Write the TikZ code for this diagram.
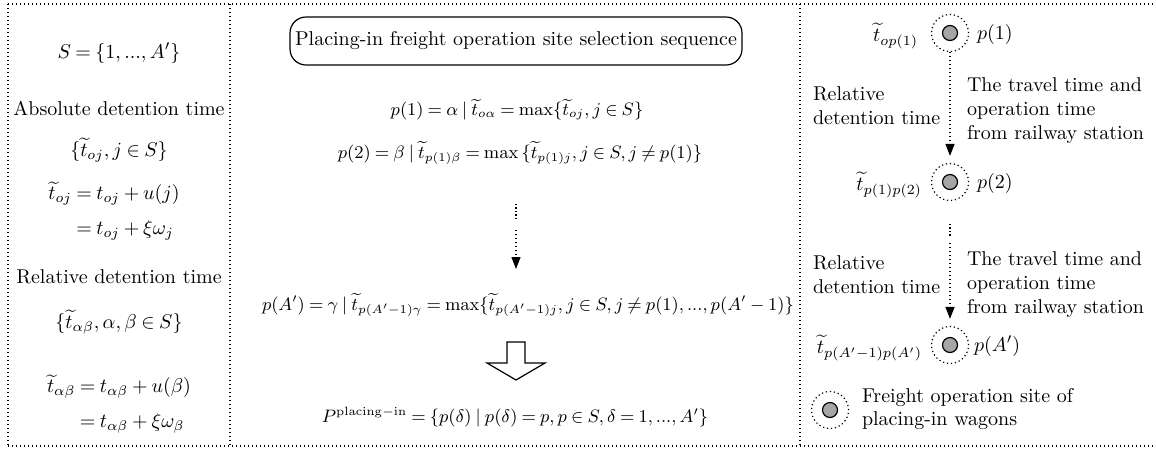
\documentclass[tikz,border=0pt]{standalone}
\usepackage{amsmath}
\usetikzlibrary{arrows.meta}
\tikzset{
  frameline/.style={line width=0.6pt, dash pattern=on 0.6pt off 1.4pt},
  txt/.style={inner sep=0pt, outer sep=0pt},
  mthl/.style={txt, font={\thickmuskip=4mu plus 2mu\medmuskip=3.5mu plus 2mu minus 2mu}},
  mthc/.style={txt, font={\fontsize{9.2}{11}\selectfont\thickmuskip=4mu plus 2mu\medmuskip=3.5mu plus 2mu minus 2mu}},
  dotarrow/.style={line width=0.6pt, dash pattern=on 0.6pt off 1.4pt, -{Triangle[length=6pt,width=4.5pt]}},
  densedots/.style={line width=0.7pt, dash pattern=on 0.7pt off 1.0pt},
  ring/.style={circle, draw, line width=0.6pt, dash pattern=on 0.6pt off 1.4pt, minimum size=18.5pt, inner sep=0pt},
  site/.style={circle, draw, fill=gray!70, line width=0.6pt, minimum size=7.5pt, inner sep=0pt},
  titlebox/.style={draw, line width=0.6pt, rounded corners=8pt, minimum width=226pt, minimum height=24pt, inner sep=2pt},
  hollow/.style={draw, line width=0.6pt, fill=white, line join=miter}
}
\begin{document}
\begin{tikzpicture}[x=0.5pt,y=-0.5pt]
\useasboundingbox (0,0) rectangle (1156,451);
% frame
\draw[frameline] (8,4) -- (1156,4);
\draw[frameline] (8,446) -- (1156,446);
\draw[frameline] (8,4) -- (8,446);
\draw[frameline] (230,4) -- (230,446);
\draw[frameline] (800,4) -- (800,446);

% left panel
\node[mthl] (S) at (119,53) {$S=\{1, ..., A'\}$};
\node[txt] (abs) at (119,108) {Absolute detention time};
\node[mthl] (toj) at (119,150) {$\{\widetilde{t}_{oj}, j\in S\}$};
\node[mthl] (tojeq) at (114,212) {$\begin{aligned} \widetilde{t}_{oj} &= t_{oj} + u(j)\\[2.5pt] &= t_{oj} + \xi\omega_j \end{aligned}$};
\node[txt] (rel) at (119,277) {Relative detention time};
\node[mthl] (tab) at (119,322) {$\{\widetilde{t}_{\alpha\beta}, \alpha, \beta\in S\}$};
\node[mthl] (tabeq) at (119,405) {$\begin{aligned} \widetilde{t}_{\alpha\beta} &= t_{\alpha\beta} + u(\beta)\\[2.5pt] &= t_{\alpha\beta} + \xi\omega_\beta \end{aligned}$};

% center panel
\node[titlebox] (title) at (516,41) {Placing-in freight operation site selection sequence};
\node[mthc] (p1) at (517,110) {$p(1) = \alpha \mid \widetilde{t}_{o\alpha} = \max\{\widetilde{t}_{oj}, j\in S\}$};
\node[mthc] (p2) at (520,153) {$p(2) = \beta \mid \widetilde{t}_{p(1)\beta} = \max\,\{\widetilde{t}_{p(1)j}, j\in S, j\neq p(1)\}$};
\draw[densedots] (516,204) -- (516,218);
\coordinate (a1) at (516,230);
\coordinate (a2) at (516,269);
\draw[dotarrow] (a1) -- (a2);
\node[mthc, anchor=west] (pA) at (262,305) {$p(A') = \gamma \mid \widetilde{t}_{p(A'-1)\gamma} = \max\{\widetilde{t}_{p(A'-1)j}, j\in S, j\neq p(1), ..., p(A'-1)\}$};
\draw[hollow] (507,342) -- (525,342) -- (525,363) -- (545,363) -- (516,380) -- (487,363) -- (507,363) -- cycle;
\node[mthc] (P) at (515,417) {$P^{\mathrm{placing}-\mathrm{in}} = \{p(\delta) \mid p(\delta) = p, p\in S, \delta = 1, ..., A'\}$};

% right panel
\node[ring] (r1) at (950,33) {};
\node[site] (c1) at (r1) {};
\node[ring] (r2) at (950,182) {};
\node[site] (c2) at (r2) {};
\node[ring] (r3) at (950,345) {};
\node[site] (c3) at (r3) {};
\node[txt, anchor=east] (l1) at (918,36) {$\widetilde{t}_{op(1)}$};
\node[txt, anchor=west] (q1) at (977,34) {$p(1)$};
\node[txt, anchor=east] (l2) at (922,185) {$\widetilde{t}_{p(1)p(2)}$};
\node[txt, anchor=west] (q2) at (977,183) {$p(2)$};
\node[txt, anchor=east] (l3) at (922,348) {$\widetilde{t}_{p(A'-1)p(A')}$};
\node[txt, anchor=west] (q3) at (974,346) {$p(A')$};
\node[txt, align=left, anchor=west] (rel1) at (813,106) {Relative\\detention time};
\node[txt, align=left, anchor=west] (tt1) at (967,111) {The travel time and\\operation time\\from railway station};
\node[txt, align=left, anchor=west] (rel2) at (813,275) {Relative\\detention time};
\node[txt, align=left, anchor=west] (tt2) at (967,285) {The travel time and\\operation time\\from railway station};
\draw[dotarrow, shorten >=3.5pt] (r1) -- (r2);
\draw[densedots] (950,224) -- (950,236);
\coordinate (m2) at (950,243);
\draw[dotarrow, shorten >=3.5pt] (m2) -- (r3);
% legend
\node[ring] (rl) at (830,410) {};
\node[site] (cl) at (rl) {};
\node[txt, align=left, anchor=west] (leg) at (862,409) {Freight operation site of\\placing-in wagons};
\end{tikzpicture}
\end{document}
